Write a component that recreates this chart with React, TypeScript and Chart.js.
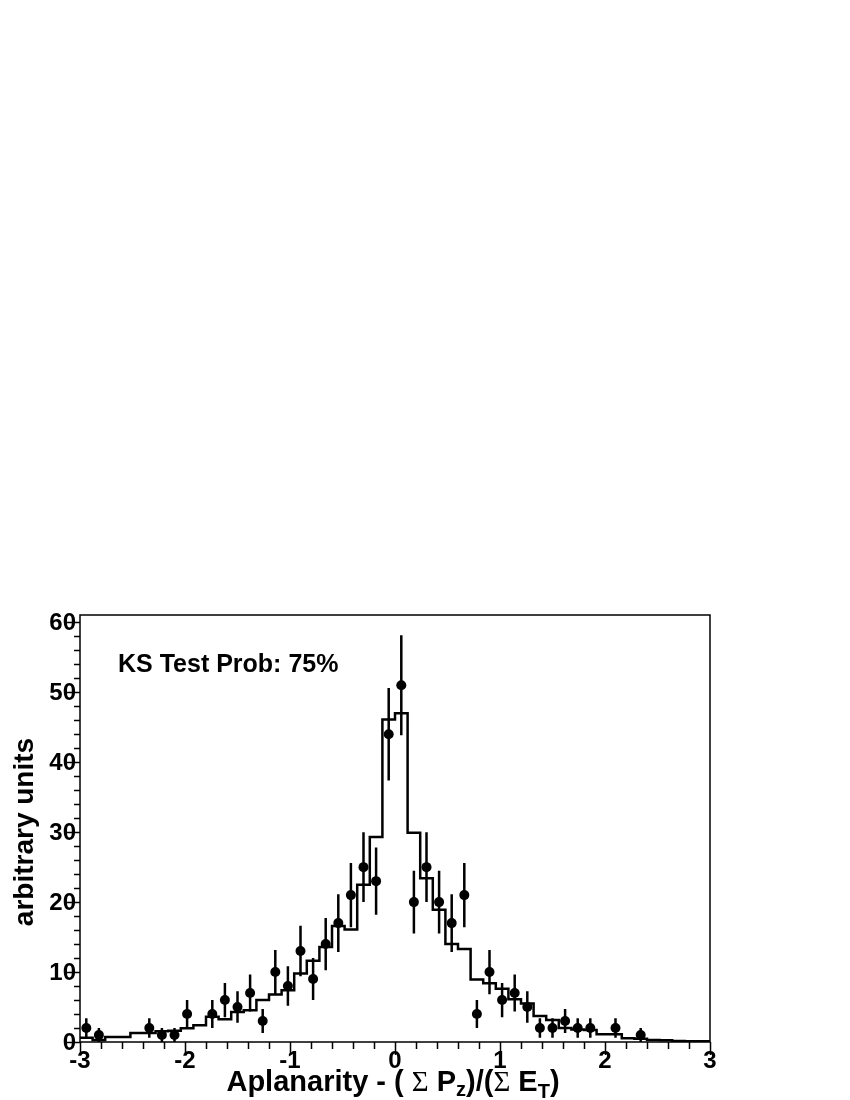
import React, { useEffect, useRef } from "react";
import { Chart, registerables } from "chart.js";

Chart.register(...registerables);

// Histogram binning (50 bins from -3 to 3)
const BIN_LOW = -3;
const BIN_WIDTH = 0.12;

// Simulation (step histogram), one value per bin
const mcValues = [
  0.6, 0.3, 0.7, 0.7, 1.3, 1.3, 1.55, 1.6, 1.95, 2.4,
  3.6, 3.25, 4.3, 4.55, 6.0, 6.8, 7.4, 9.8, 11.6, 13.6,
  16.6, 16.1, 22.5, 29.3, 46.1, 47.0, 29.9, 23.4, 18.9, 14.0,
  13.3, 8.95, 8.4, 7.6, 6.1, 5.5, 3.7, 3.15, 2.0, 1.8,
  1.7, 1.1, 1.1, 0.55, 0.45, 0.3, 0.25, 0.15, 0.1, 0.1,
];

// Data points (bin centres with non-zero counts)
const dataX = [
  -2.94, -2.82, -2.34, -2.22, -2.1, -1.98, -1.74, -1.62, -1.5, -1.38,
  -1.26, -1.14, -1.02, -0.9, -0.78, -0.66, -0.54, -0.42, -0.3, -0.18,
  -0.06, 0.06, 0.18, 0.3, 0.42, 0.54, 0.66, 0.78, 0.9, 1.02,
  1.14, 1.26, 1.38, 1.5, 1.62, 1.74, 1.86, 2.1, 2.34,
];
const dataCounts = [
  2, 1, 2, 1, 1, 4, 4, 6, 5, 7,
  3, 10, 8, 13, 9, 14, 17, 21, 25, 23,
  44, 51, 20, 25, 20, 17, 21, 4, 10, 6,
  7, 5, 2, 2, 3, 2, 2, 2, 1,
];
const dataErrors = [
  1.41, 1.0, 1.41, 1.0, 1.0, 2.0, 2.0, 2.45, 2.24, 2.65,
  1.73, 3.16, 2.83, 3.61, 3.0, 3.74, 4.12, 4.58, 5.0, 4.8,
  6.63, 7.14, 4.47, 5.0, 4.47, 4.12, 4.58, 2.0, 3.16, 2.45,
  2.65, 2.24, 1.41, 1.41, 1.73, 1.41, 1.41, 1.41, 1.0,
];

// Axes
const X_MIN = -3;
const X_MAX = 3;
const Y_MIN = 0;
const Y_MAX = 61.05;
const xMajorTicks = [-3, -2, -1, 0, 1, 2, 3];
const xTickLabels = ["-3", "-2", "-1", "0", "1", "2", "3"];
const X_MINOR_STEP = 0.2;
const yMajorTicks = [0, 10, 20, 30, 40, 50, 60];
const yTickLabels = ["0", "10", "20", "30", "40", "50", "60"];
const Y_MINOR_STEP = 2;

const yTitle = "arbitrary units";
const ksText = "KS Test Prob: 75%";

const SANS = "'Liberation Sans', Arial, Helvetica, sans-serif";
const SERIF = "'Liberation Serif', 'DejaVu Serif', serif";

const xTitleParts = [
  { t: "Aplanarity - ( ", font: `bold 29px ${SANS}`, dy: 0 },
  { t: "\u03A3", font: `29px ${SERIF}`, dy: 0 },
  { t: " P", font: `bold 29px ${SANS}`, dy: 0 },
  { t: "z", font: `bold 20px ${SANS}`, dy: 5 },
  { t: ")/(", font: `bold 29px ${SANS}`, dy: 0 },
  { t: "\u03A3", font: `29px ${SERIF}`, dy: 0 },
  { t: " E", font: `bold 29px ${SANS}`, dy: 0 },
  { t: "T", font: `bold 20px ${SANS}`, dy: 7 },
  { t: ")", font: `bold 29px ${SANS}`, dy: 0 },
];

const errorBarPlugin = {
  id: "errorBars",
  afterDatasetsDraw(chart: any) {
    const { ctx, scales } = chart;
    const x = scales.x;
    const y = scales.y;
    ctx.save();
    ctx.strokeStyle = "#000";
    ctx.lineWidth = 2.5;
    ctx.beginPath();
    dataX.forEach((xv, i) => {
      const px = x.getPixelForValue(xv);
      ctx.moveTo(px, y.getPixelForValue(dataCounts[i] - dataErrors[i]));
      ctx.lineTo(px, y.getPixelForValue(dataCounts[i] + dataErrors[i]));
    });
    ctx.stroke();
    ctx.restore();
  },
};

const axesPlugin = {
  id: "rootAxes",
  afterDraw(chart: any) {
    const { ctx, chartArea, scales } = chart;
    const { left, right, top, bottom } = chartArea;
    const x = scales.x;
    const y = scales.y;
    ctx.save();
    ctx.strokeStyle = "#000";
    ctx.fillStyle = "#000";
    ctx.lineWidth = 1.5;
    ctx.strokeRect(left, top, right - left, bottom - top);

    // x ticks (outward)
    ctx.beginPath();
    const nx = Math.round((X_MAX - X_MIN) / X_MINOR_STEP);
    for (let i = 0; i <= nx; i++) {
      const v = X_MIN + i * X_MINOR_STEP;
      const major = Math.abs(v - Math.round(v)) < 1e-6;
      const px = Math.round(x.getPixelForValue(v)) + 0.5;
      ctx.moveTo(px, bottom);
      ctx.lineTo(px, bottom + (major ? 13 : 7));
    }
    // y ticks (outward)
    const ny = Math.floor((Y_MAX - Y_MIN) / Y_MINOR_STEP);
    for (let i = 0; i <= ny; i++) {
      const v = Y_MIN + i * Y_MINOR_STEP;
      const major = v % 10 === 0;
      const py = Math.round(y.getPixelForValue(v)) + 0.5;
      ctx.moveTo(left, py);
      ctx.lineTo(left - (major ? 13 : 6), py);
    }
    ctx.stroke();

    // tick labels
    ctx.font = `bold 24px ${SANS}`;
    ctx.textAlign = "center";
    ctx.textBaseline = "alphabetic";
    xMajorTicks.forEach((v, i) => {
      ctx.fillText(xTickLabels[i], x.getPixelForValue(v), bottom + 26);
    });
    ctx.textAlign = "right";
    ctx.textBaseline = "middle";
    yMajorTicks.forEach((v, i) => {
      ctx.fillText(yTickLabels[i], left - 4, y.getPixelForValue(v) + 1);
    });

    // x title
    ctx.textAlign = "left";
    ctx.textBaseline = "alphabetic";
    let total = 0;
    xTitleParts.forEach((p) => {
      ctx.font = p.font;
      total += ctx.measureText(p.t).width;
    });
    let cx = 393 - total / 2;
    const baseY = 1091;
    xTitleParts.forEach((p) => {
      ctx.font = p.font;
      ctx.fillText(p.t, cx, baseY + p.dy);
      cx += ctx.measureText(p.t).width;
    });

    // y title
    ctx.save();
    ctx.translate(33, 832);
    ctx.rotate(-Math.PI / 2);
    ctx.font = `bold 28px ${SANS}`;
    ctx.textAlign = "center";
    ctx.fillText(yTitle, 0, 0);
    ctx.restore();

    // KS text
    ctx.font = `bold 25px ${SANS}`;
    ctx.textAlign = "left";
    ctx.fillText(ksText, 118, 672);

    ctx.restore();
  },
};

export default function App() {
  const ref = useRef<HTMLCanvasElement>(null);
  useEffect(() => {
    const mcPoints = mcValues.map((v, i) => ({ x: BIN_LOW + i * BIN_WIDTH, y: v }));
    mcPoints.push({ x: BIN_LOW + mcValues.length * BIN_WIDTH, y: mcValues[mcValues.length - 1] });
    const chart = new Chart(ref.current as HTMLCanvasElement, {
      type: "scatter",
      data: {
        datasets: [
          {
            type: "scatter",
            data: dataX.map((xv, i) => ({ x: xv, y: dataCounts[i] })),
            pointRadius: 5,
            pointBackgroundColor: "#000",
            pointBorderColor: "#000",
            pointBorderWidth: 0,
            showLine: false,
            order: 1,
          } as any,
          {
            type: "line",
            data: mcPoints,
            stepped: "before",
            borderColor: "#000",
            borderWidth: 2.5,
            pointRadius: 0,
            fill: false,
            order: 2,
          } as any,
        ],
      },
      options: {
        animation: false,
        responsive: false,
        devicePixelRatio: 1,
        events: [],
        layout: { padding: { left: 80, right: 140, top: 615, bottom: 58 } },
        plugins: { legend: { display: false }, tooltip: { enabled: false } },
        scales: {
          x: { type: "linear", min: X_MIN, max: X_MAX, display: false },
          y: { type: "linear", min: Y_MIN, max: Y_MAX, display: false },
        },
      } as any,
      plugins: [errorBarPlugin, axesPlugin],
    });
    return () => chart.destroy();
  }, []);
  return (
    <div style={{ position: "absolute", left: 0, top: 0, width: 850, height: 1100, background: "#fff" }}>
      <canvas ref={ref} width={850} height={1100} style={{ display: "block", width: 850, height: 1100 }} />
    </div>
  );
}
